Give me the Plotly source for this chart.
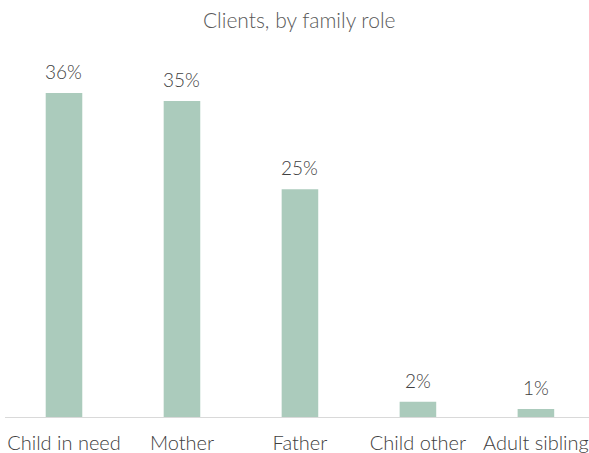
import plotly.graph_objects as go

categories = ["Child in need", "Mother", "Father", "Child other", "Adult sibling"]
values = [36.0, 35.1, 25.3, 1.7, 0.9]
labels = ["36%", "35%", "25%", "2%", "1%"]

fig = go.Figure()
fig.add_trace(go.Bar(
    x=categories, y=values,
    marker=dict(color="#abcbbc", line=dict(width=0)),
    hoverinfo="skip",
))
for c, v, t in zip(categories, values, labels):
    fig.add_annotation(x=c, y=v, text=t, showarrow=False, yanchor="bottom",
                       yshift=8, font=dict(size=19, color="#404040", weight=300))

fig.update_layout(
    width=589, height=453,
    margin=dict(l=5, r=0, t=57, b=36),
    paper_bgcolor="white", plot_bgcolor="white",
    font=dict(family="Lato, sans-serif", color="#595959", size=18, weight=300),
    title=dict(text="Clients, by family role", x=0.508, xanchor="center",
               y=1 - 21 / 453, yanchor="middle",
               font=dict(size=21, color="#595959", weight=300)),
    bargap=0.69,
    showlegend=False,
    xaxis=dict(range=[-0.5, 4.45], showline=True, linecolor="#d9d9d9",
               linewidth=1, ticks="", showgrid=False, ticklabelstandoff=8,
               tickfont=dict(size=20, color="#404040", weight=300)),
    yaxis=dict(range=[0, 40], visible=False, showgrid=False, zeroline=False),
)
fig.write_html("out.html", config={"displayModeBar": False},
               post_script="document.body.style.margin='0';document.body.style.padding='0';")
